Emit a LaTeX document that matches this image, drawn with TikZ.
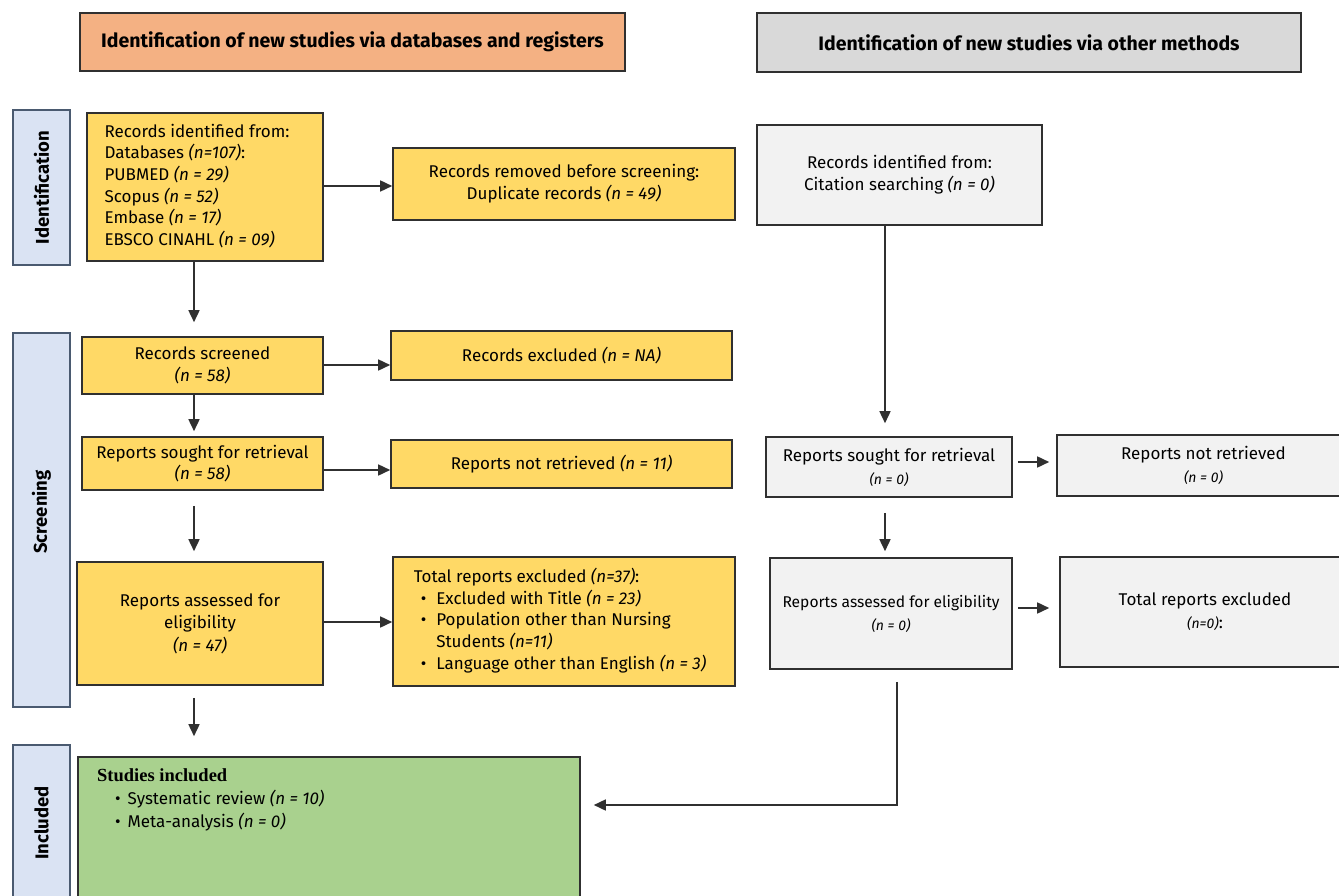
\documentclass[tikz,border=0pt]{standalone}
\usepackage{fontspec}
\setmainfont{Fira Sans}
\newfontfamily\titleserif{Liberation Serif}
\usetikzlibrary{arrows.meta,calc}

\definecolor{hdrorange}{HTML}{F4B183}
\definecolor{hdrgray}{HTML}{D9D9D9}
\definecolor{boxgold}{HTML}{FFD966}
\definecolor{boxgray}{HTML}{F2F2F2}
\definecolor{boxgreen}{HTML}{A9D18E}
\definecolor{sidefill}{HTML}{DAE3F3}
\definecolor{sideline}{HTML}{4A5A70}
\definecolor{edge}{HTML}{303030}

\tikzset{
  size/.style 2 args={minimum width=#1pt, minimum height=#2pt},
  base/.style={draw=edge, line width=1.6pt, inner sep=0pt, align=center,
    font=\fontsize{17}{21.7}\selectfont},
  header/.style={base, font=\bfseries\fontsize{19.5}{22}\selectfont},
  goldbox/.style={base, fill=boxgold},
  graybox/.style={base, fill=boxgray},
  lightbox/.style={graybox, font=\fontsize{17}{23}\selectfont},
  greenbox/.style={base, fill=boxgreen},
  sidebox/.style={draw=sideline, line width=1.6pt, fill=sidefill, inner sep=0pt},
  sidelabel/.style={rotate=90, font=\bfseries\fontsize{18.5}{20}\selectfont, inner sep=0pt},
  flow/.style={draw=edge, line width=1.6pt, -{Triangle[length=12pt,width=11pt]}}
}
\newcommand{\nsmall}[1]{{\itshape\fontsize{14}{20}\selectfont #1}}
\newcommand{\bul}{\hspace*{7pt}\textbullet\hspace{10pt}}
\newcommand{\nobul}{\hspace*{7pt}\phantom{\textbullet}\hspace{10pt}}

\begin{document}
\begin{tikzpicture}[x=1pt, y=-1pt]
\useasboundingbox (0,0) rectangle (1339,896);

% column headers
\node[header, fill=hdrorange, size={545}{58}] (hleft) at (352.5,42)
  {Identification of new studies via databases and registers};
\node[header, fill=hdrgray, size={544}{59}] (hright) at (1029,42.5)
  {Identification of new studies via other methods};

% phase bars on the left
\node[sidebox, size={57}{155}] (sideid) at (41.5,187.5) {};
\node[sidelabel] (lblid) at (41.5,187.5) {Identification};
\node[sidebox, size={57}{374}] (sidescr) at (41.5,520) {};
\node[sidelabel] (lblscr) at (41.5,512) {Screening};
\node[sidebox, size={57}{160}] (sideinc) at (41.5,825) {};
\node[sidelabel] (lblinc) at (41.5,823) {Included};

% databases and registers column
\node[goldbox, size={236}{148}] (ident) at (205,187)
  {\begin{tabular}{@{}l@{\hspace{16pt}}}
   Records identified from:\\
   Databases \textit{(n=107)}:\\
   PUBMED \textit{(n = 29)}\\
   Scopus \textit{(n = 52)}\\
   Embase \textit{(n = 17)}\\
   EBSCO CINAHL \textit{(n = 09)}
   \end{tabular}};
\node[goldbox, size={342}{72}] (removed) at (564,184)
  {Records removed before screening:\\
   Duplicate records \textit{(n = 49)}};

\node[goldbox, size={241}{57}] (screened) at (202.5,365.5)
  {Records screened\\ \textit{(n = 58)}};
\node[goldbox, size={341}{49}] (excluded) at (561.5,355.5)
  {Records excluded \textit{(n = NA)}};

\node[goldbox, size={241}{53}] (sought) at (202.5,463.5)
  {Reports sought for retrieval\\ \textit{(n = 58)}};
\node[goldbox, size={341}{48}] (notret) at (561.5,464)
  {Reports not retrieved \textit{(n = 11)}};

\node[goldbox, size={246}{123}, font=\fontsize{17}{22.5}\selectfont] (assessed) at (200,623.5)
  {Reports assessed for\\ eligibility\\ \textit{(n = 47)}};
\node[goldbox, size={342}{129}] (totexc) at (564,621.5)
  {\begin{tabular}{@{}l@{\hspace{8pt}}}
   Total reports excluded \textit{(n=37)}:\\
   \bul Excluded with Title \textit{(n = 23)}\\
   \bul Population other than Nursing\\
   \nobul Students \textit{(n=11)}\\
   \bul Language other than English \textit{(n = 3)}
   \end{tabular}};

\node[greenbox, size={502}{148}] (included) at (329,831) {};
\node[anchor=north west, align=left, inner sep=0pt,
      font=\fontsize{17}{23}\selectfont] (inctext) at (97,768)
  {{\titleserif\bfseries\fontsize{18.5}{20}\selectfont Studies included}\\
   \hspace*{18pt}\textbullet\hspace{7pt}Systematic review \textit{(n = 10)}\\
   \hspace*{18pt}\textbullet\hspace{7pt}Meta-analysis \textit{(n = 0)}};

% other methods column
\node[graybox, size={285}{100}] (citation) at (899.5,175)
  {Records identified from:\\ Citation searching \textit{(n = 0)}};
\node[lightbox, size={246}{60}] (rsought) at (889,467)
  {Reports sought for retrieval\\ \nsmall{(n = 0)}};
\node[lightbox, size={293}{61}] (rnotret) at (1203.5,465.5)
  {Reports not retrieved\\ \nsmall{(n = 0)}};
\node[lightbox, size={242}{111}, font=\fontsize{15.6}{23}\selectfont] (rassessed) at (891,613.5)
  {Reports assessed for eligibility\\ \nsmall{(n = 0)}};
\node[lightbox, size={290}{110}] (rtotexc) at (1205,612)
  {Total reports excluded\\ \nsmall{(n=0)}:};

% connectors, left column
\coordinate (colA) at (194,0);
\coordinate (colB) at (885,0);
\coordinate (colC) at (897,0);
\draw[flow] (ident.east |- 0,186) -- (removed.west |- 0,186);
\draw[flow, shorten >=14pt] (ident.south -| colA) -- (screened.north -| colA);
\draw[flow, shorten >=5pt] (screened.south -| colA) -- (sought.north -| colA);
\draw[flow, shorten <=15pt, shorten >=10pt] (sought.south -| colA) -- (assessed.north -| colA);
\draw[flow, shorten <=12pt, shorten >=20pt] (assessed.south -| colA) -- (included.north -| colA);
\draw[flow] (screened.east |- 0,365) -- (excluded.west |- 0,365);
\draw[flow] (sought.east |- 0,470) -- (notret.west |- 0,470);
\draw[flow] (assessed.east |- 0,622) -- (totexc.west |- 0,622);

% connectors, right column
\draw[flow, shorten >=13pt] (citation.south -| colB) -- (rsought.north -| colB);
\draw[flow, shorten <=5pt, shorten >=7pt] (rsought.east |- 0,462) -- (rnotret.west |- 0,462);
\draw[flow, shorten <=15pt, shorten >=6pt] (rsought.south -| colB) -- (rassessed.north -| colB);
\draw[flow, shorten <=5pt, shorten >=10pt] (rassessed.east |- 0,608) -- (rtotexc.west |- 0,608);
\draw[flow, shorten >=13pt] ($(rassessed.south -| colC)+(0,12)$) |- (included.east |- 0,805);
\end{tikzpicture}
\end{document}
